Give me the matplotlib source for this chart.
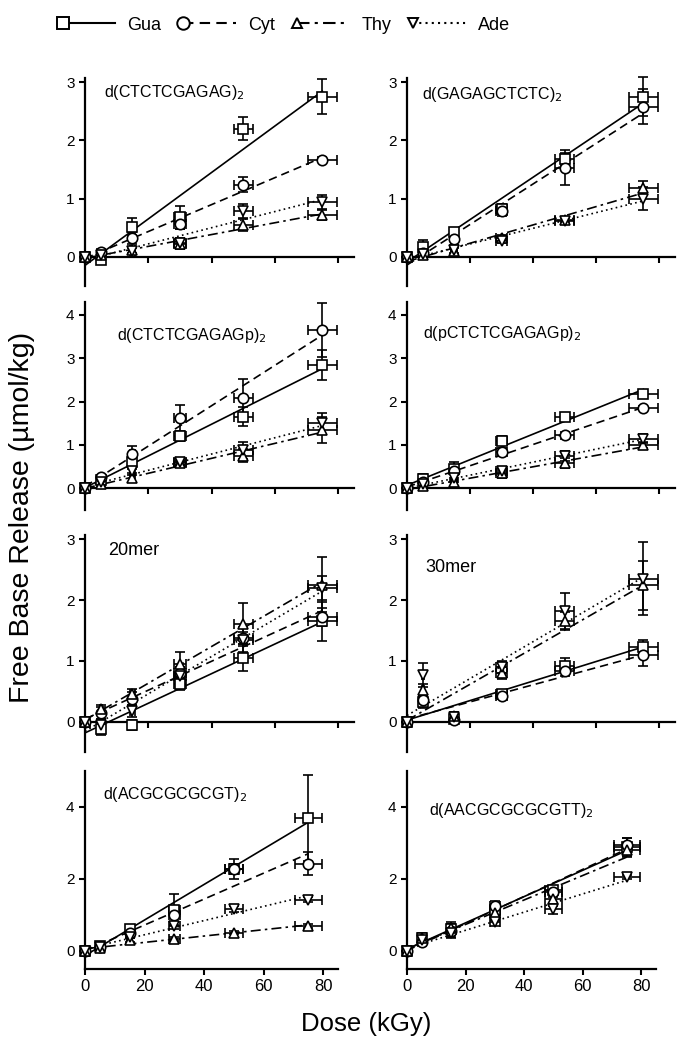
import numpy as np
import matplotlib.pyplot as plt
from matplotlib.lines import Line2D

plt.rcParams['font.family'] = ['Liberation Sans', 'DejaVu Sans']

# dose points (kGy) and the dose uncertainty
dose = [0, 5, 15, 30, 50, 75]
dose_err = [0, 0.3, 0.9, 1.8, 3.0, 4.5]

panel_labels = ['d(CTCTCGAGAG)$_2$', 'd(GAGAGCTCTC)$_2$',
                'd(CTCTCGAGAGp)$_2$', 'd(pCTCTCGAGAGp)$_2$',
                '20mer', '30mer',
                'd(ACGCGCGCGT)$_2$', 'd(AACGCGCGCGTT)$_2$']
series_names = ['Gua', 'Cyt', 'Thy', 'Ade']

# free base release (umol/kg), one row per panel
gua = [[0, -0.05, 0.52, 0.68, 2.2, 2.75],
       [0, 0.17, 0.42, 0.82, 1.68, 2.75],
       [0, 0.2, 0.6, 1.2, 1.65, 2.85],
       [0, 0.22, 0.45, 1.1, 1.65, 2.17],
       [0, -0.12, -0.05, 0.62, 1.05, 1.65],
       [0, 0.32, 0.05, 0.45, 0.92, 1.22],
       [0, 0.15, 0.6, 1.15, 2.28, 3.7],
       [0, 0.35, 0.6, 1.15, 1.7, 2.9]]
cyt = [[0, 0.08, 0.32, 0.57, 1.24, 1.67],
       [0, 0.06, 0.3, 0.78, 1.53, 2.58],
       [0, 0.26, 0.8, 1.62, 2.08, 3.65],
       [0, 0.15, 0.4, 0.84, 1.23, 1.86],
       [0, 0.14, 0.38, 0.8, 1.37, 1.72],
       [0, 0.35, 0.03, 0.42, 0.83, 1.09],
       [0, 0.1, 0.5, 1.0, 2.28, 2.43],
       [0, 0.25, 0.55, 1.25, 1.65, 2.95]]
thy = [[0, 0.03, 0.12, 0.22, 0.55, 0.72],
       [0, 0.03, 0.1, 0.32, 0.64, 1.18],
       [0, 0.1, 0.25, 0.58, 0.75, 1.35],
       [0, 0.05, 0.15, 0.35, 0.58, 1.0],
       [0, 0.2, 0.45, 0.95, 1.6, 2.25],
       [0, 0.52, 0.1, 0.8, 1.66, 2.24],
       [0, 0.08, 0.3, 0.33, 0.51, 0.7],
       [0, 0.35, 0.65, 1.05, 1.45, 2.8]]
ade = [[0, 0.03, 0.1, 0.24, 0.78, 0.95],
       [0, 0.05, 0.12, 0.28, 0.62, 1.0],
       [0, 0.15, 0.4, 0.6, 0.88, 1.5],
       [0, 0.1, 0.25, 0.4, 0.75, 1.15],
       [0, -0.05, 0.18, 0.75, 1.35, 2.2],
       [0, 0.77, 0.08, 0.9, 1.82, 2.35],
       [0, 0.1, 0.4, 0.7, 1.16, 1.43],
       [0, 0.3, 0.5, 0.8, 1.18, 2.06]]

gua_err = [[0, 0.05, 0.15, 0.2, 0.2, 0.3],
           [0, 0.12, 0.08, 0.08, 0.1, 0.33],
           [0, 0.05, 0.15, 0.1, 0.22, 0.35],
           [0, 0.1, 0.1, 0.1, 0.08, 0.08],
           [0, 0.1, 0.08, 0.1, 0.22, 0.32],
           [0, 0.1, 0.08, 0.05, 0.12, 0.12],
           [0, 0.1, 0.1, 0.42, 0.28, 1.2],
           [0, 0.15, 0.15, 0.15, 0.1, 0.25]]
cyt_err = [[0, 0.05, 0.1, 0.1, 0.13, 0.05],
           [0, 0.05, 0.1, 0.08, 0.3, 0.3],
           [0, 0.05, 0.18, 0.3, 0.45, 0.62],
           [0, 0.05, 0.2, 0.1, 0.08, 0.05],
           [0, 0.1, 0.1, 0.1, 0.1, 0.15],
           [0, 0.1, 0.05, 0.05, 0.08, 0.18],
           [0, 0.05, 0.1, 0.2, 0.15, 0.32],
           [0, 0.1, 0.2, 0.15, 0.15, 0.2]]
thy_err = [[0, 0.03, 0.05, 0.08, 0.1, 0.08],
           [0, 0.03, 0.05, 0.05, 0.05, 0.12],
           [0, 0.05, 0.1, 0.05, 0.15, 0.3],
           [0, 0.05, 0.1, 0.1, 0.12, 0.08],
           [0, 0.08, 0.08, 0.2, 0.35, 0.45],
           [0, 0.1, 0.05, 0.1, 0.15, 0.4],
           [0, 0.03, 0.05, 0.05, 0.05, 0.05],
           [0, 0.1, 0.15, 0.2, 0.2, 0.2]]
ade_err = [[0, 0.03, 0.05, 0.08, 0.12, 0.12],
           [0, 0.03, 0.05, 0.05, 0.05, 0.2],
           [0, 0.05, 0.1, 0.05, 0.2, 0.25],
           [0, 0.05, 0.1, 0.08, 0.12, 0.1],
           [0, 0.1, 0.1, 0.15, 0.2, 0.2],
           [0, 0.2, 0.05, 0.1, 0.3, 0.6],
           [0, 0.03, 0.05, 0.1, 0.08, 0.08],
           [0, 0.1, 0.1, 0.1, 0.15, 0.05]]

row_ylim = [(-0.5, 3.07), (-0.5, 4.3), (-0.5, 3.07), (-0.5, 5.0)]
row_yticks = [[0, 1, 2, 3], [0, 1, 2, 3, 4], [0, 1, 2, 3], [0, 2, 4]]

# layout in pixels of the 694x1050 figure
W, H = 694, 1050
col_x = [85, 407]
row_w = [[269, 268], [269, 268], [269, 268], [253, 249]]
row_top = [78, 302, 535, 771]
row_bot = [286, 510, 752, 969]
label_pos = [(0.07, 0.93), (0.056, 0.92), (0.12, 0.84), (0.06, 0.85),
             (0.085, 0.93), (0.067, 0.85), (0.07, 0.88), (0.088, 0.80)]

markers = ['s', 'o', '^', 'v']
lstyles = ['-', (0, (5, 3)), (0, (6, 2.5, 1.5, 2.5)), (0, (1, 2))]
all_vals = [gua, cyt, thy, ade]
all_errs = [gua_err, cyt_err, thy_err, ade_err]

fig = plt.figure(figsize=(6.94, 10.5), dpi=100)

for i in range(8):
    r, c = i // 2, i % 2
    ax = fig.add_axes([col_x[c] / W, 1 - row_bot[r] / H,
                       row_w[r][c] / W, (row_bot[r] - row_top[r]) / H])
    xs = np.array([0, 75])
    for s in range(4):
        vals = all_vals[s][i]
        k, b = np.polyfit(dose, vals, 1)
        ax.plot(xs, k * xs + b, color='black', ls=lstyles[s], lw=1.2, zorder=2)
        cont = ax.errorbar(dose, vals, yerr=all_errs[s][i], xerr=dose_err,
                           fmt=markers[s], ms=7.5, mfc='white', mec='black',
                           mew=1.2, ecolor='black', elinewidth=1.2,
                           capsize=3.5, capthick=1.2, zorder=3)
        for art in cont.get_children():
            art.set_clip_on(False)

    ax.set_xlim(0, 85)
    ax.set_ylim(*row_ylim[r])
    ax.set_yticks(row_yticks[r])
    ax.spines['top'].set_visible(False)
    ax.spines['right'].set_visible(False)
    for sp in ['left', 'bottom']:
        ax.spines[sp].set_linewidth(1.6)
    ax.tick_params(direction='out', length=4, width=1.5, labelsize=11)
    if r < 3:
        ax.spines['bottom'].set_position(('data', 0))
        ax.set_xticks([0, 20, 40, 60, 80])
        ax.set_xticklabels([])
    else:
        ax.set_xticks([0, 20, 40, 60, 80])
        ax.tick_params(axis='x', labelsize=12)

    fs = 13 if 'mer' in panel_labels[i] else 11.5
    ax.text(label_pos[i][0], label_pos[i][1], panel_labels[i],
            transform=ax.transAxes, fontsize=fs, va='center', ha='left')

fig.text(0.032, 0.507, 'Free Base Release (µmol/kg)', rotation=90,
         fontsize=20.5, va='center', ha='center')
fig.text(0.528, 0.025, 'Dose (kGy)', fontsize=18.5, va='center', ha='center')

# legend: marker first, then the fit line style
handles = []
for s in range(4):
    ms = 9 if s < 2 else 7.5
    handles.append(Line2D([], [], marker=markers[s], ls=lstyles[s],
                          color='black', lw=1.5, mfc='white', mec='black',
                          ms=ms, mew=1.4))
leg = fig.legend(handles, series_names, ncol=4, loc='center',
                 bbox_to_anchor=(0.409, 0.976), frameon=False, fontsize=13,
                 numpoints=2, handlelength=3.5, handletextpad=0.4,
                 columnspacing=0.9)
for ln in leg.get_lines():
    ln.set_markevery([0])

fig.savefig('out.png', dpi=100)
